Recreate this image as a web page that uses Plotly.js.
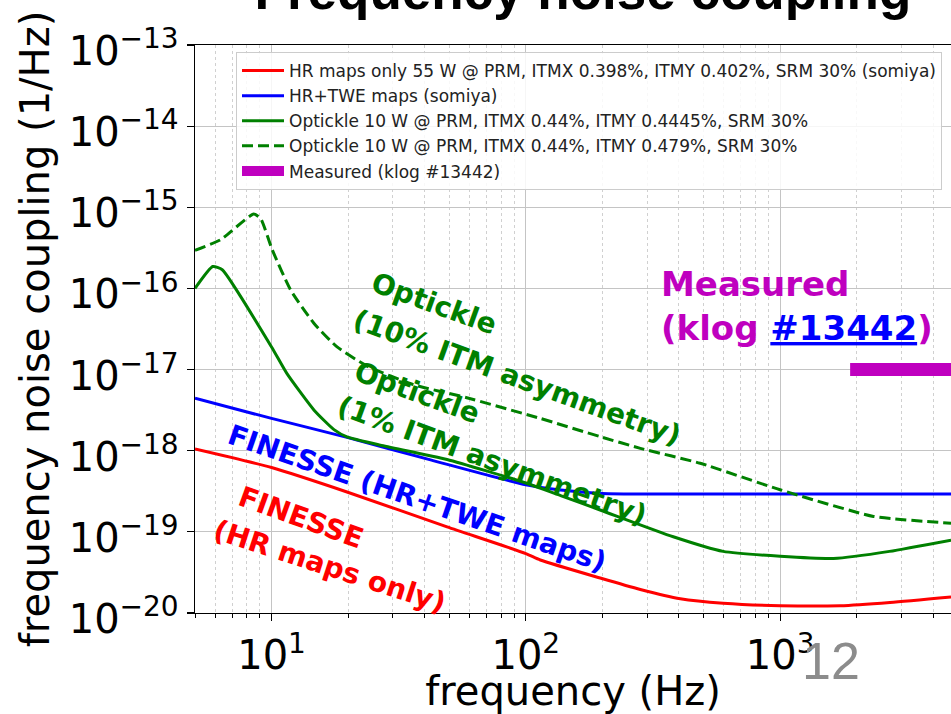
<!DOCTYPE html>
<html>
<head>
<meta charset="utf-8">
<script src="https://cdn.plot.ly/plotly-3.0.1.min.js"></script>
<style>html,body{margin:0;padding:0;overflow:hidden;background:#fff}</style>
</head>
<body>
<div id="chart" style="width:951px;height:714px"></div>
<script>
// ---- data ----
const hrFreq = [5, 10, 19.8, 49, 100, 114, 196, 282, 405, 597, 1000, 1722, 2704, 4700];
const hrVal  = [1.05e-18, 6.2e-19, 3.1e-19, 1.15e-19, 5.4e-20, 4.5e-20, 2.7e-20, 1.95e-20, 1.5e-20, 1.32e-20, 1.23e-20, 1.23e-20, 1.35e-20, 1.58e-20];

const tweFreq = [5, 10, 19.8, 42.2, 100, 137, 200, 316, 1000, 4700];
const tweVal  = [4.43e-18, 2.5e-18, 1.46e-18, 7.7e-19, 3.8e-19, 3.28e-19, 2.98e-19, 2.93e-19, 2.93e-19, 2.93e-19];

const opt1Freq = [5, 5.87, 6.4, 10, 11.5, 14.7, 17.6, 19.8, 26.8, 49, 100, 137, 196, 380, 597, 1000, 1622, 2692, 4700];
const opt1Val  = [1e-16, 1.86e-16, 1.7e-16, 1.9e-17, 8.9e-18, 3.16e-18, 1.82e-18, 1.48e-18, 1.17e-18, 7.8e-19, 4.0e-19, 2.8e-19, 1.86e-19, 8.7e-20, 5.75e-20, 5.0e-20, 4.7e-20, 5.75e-20, 7.9e-20];

const opt10Freq = [5, 6.3, 8.5, 9.06, 10.07, 11.9, 14.7, 18.1, 23.8, 36.2, 58.6, 114, 196, 282, 485, 1000, 2330, 4700];
const opt10Val  = [2.95e-16, 3.98e-16, 8.26e-16, 7.3e-16, 2.98e-16, 9.5e-17, 3.7e-17, 1.9e-17, 1.1e-17, 6.5e-18, 4.5e-18, 2.5e-18, 1.49e-18, 1.07e-18, 7.0e-19, 3.3e-19, 1.55e-19, 1.28e-19];

const measFreq = [1885, 5000];
const measVal  = [1e-17, 1e-17];

const seriesNames = [
  'HR maps only 55 W @ PRM, ITMX 0.398%, ITMY 0.402%, SRM 30% (somiya)',
  'HR+TWE maps (somiya)',
  'Optickle 10 W @ PRM, ITMX 0.44%, ITMY 0.4445%, SRM 30%',
  'Optickle 10 W @ PRM, ITMX 0.44%, ITMY 0.479%, SRM 30%',
  'Measured (klog #13442)'
];

const xTickVals = [10, 100, 1000];
const xTickText = ['10<sup>1</sup>', '10<sup>2</sup>', '10<sup>3</sup>'];
const yTickVals = [1e-20, 1e-19, 1e-18, 1e-17, 1e-16, 1e-15, 1e-14, 1e-13];
const yTickText = ['10<sup>\u221220</sup>', '10<sup>\u221219</sup>', '10<sup>\u221218</sup>', '10<sup>\u221217</sup>',
                   '10<sup>\u221216</sup>', '10<sup>\u221215</sup>', '10<sup>\u221214</sup>', '10<sup>\u221213</sup>'];

// minor tick positions 2..9 in each decade
const xMinor = [];
[1, 10, 100, 1000].forEach(d => { for (let k = 2; k <= 9; k++) xMinor.push(k * d); });

const RED = '#ff0000', BLUE = '#0000ff', GREEN = '#008000', MAG = '#bf00bf';

const traces = [
  {x: hrFreq, y: hrVal, name: seriesNames[0], mode: 'lines', line: {color: RED, width: 3, shape: 'spline', smoothing: 0.6}},
  {x: tweFreq, y: tweVal, name: seriesNames[1], mode: 'lines', line: {color: BLUE, width: 3, shape: 'spline', smoothing: 0.6}},
  {x: opt1Freq, y: opt1Val, name: seriesNames[2], mode: 'lines', line: {color: GREEN, width: 3, shape: 'spline', smoothing: 0.5}},
  {x: opt10Freq, y: opt10Val, name: seriesNames[3], mode: 'lines', line: {color: GREEN, width: 3, dash: '11px,5px', shape: 'spline', smoothing: 0.5}},
  {x: measFreq, y: measVal, name: seriesNames[4], mode: 'lines', line: {color: MAG, width: 13}}
];

const ANNF = 'DejaVu Sans';
function rot(text, px, py, ang, color, size) {
  return {text: text, xref: 'paper', yref: 'paper', x: (px - 195) / 756, y: (613 - py) / 568,
          xanchor: 'center', yanchor: 'middle', textangle: ang, showarrow: false,
          font: {family: ANNF, size: size || 28, color: color, weight: 'bold'}};
}

const annotations = [
  rot('Optickle', 434, 303, 20, GREEN),
  rot('(10% ITM asymmetry)', 517, 378, 20, GREEN),
  rot('Optickle', 417, 392, 20, GREEN),
  rot('(1% ITM asymmetry)', 492, 460, 20, GREEN),
  rot('FINESSE (HR+TWE maps)', 417, 499, 19, BLUE),
  rot('FINESSE', 301, 517, 20, RED),
  rot('(HR maps only)', 330, 566, 18, RED),
  {text: 'Measured', xref: 'paper', yref: 'paper', x: (659 - 195) / 756, y: (613 - 284) / 568,
   xanchor: 'left', yanchor: 'middle', showarrow: false,
   font: {family: ANNF, size: 34, color: MAG, weight: 'bold'}},
  {text: '(klog <span style="color:#0000ff;text-decoration:underline">#13442</span>)', xref: 'paper', yref: 'paper',
   x: (659 - 195) / 756, y: (613 - 328) / 568,
   xanchor: 'left', yanchor: 'middle', showarrow: false,
   font: {family: ANNF, size: 34, color: MAG, weight: 'bold'}},
  {text: '12', xref: 'paper', yref: 'paper', x: (831 - 195) / 756, y: (613 - 661) / 568,
   xanchor: 'center', yanchor: 'middle', showarrow: false,
   font: {family: 'Liberation Sans', size: 52, color: '#8c8c8c'}}
];

const layout = {
  width: 951, height: 714,
  margin: {l: 195, r: 0, t: 45, b: 101},
  paper_bgcolor: '#ffffff', plot_bgcolor: '#ffffff',
  title: {text: 'Frequency noise coupling', x: 0.613, xanchor: 'center', xref: 'container',
          y: 0.987, yanchor: 'bottom', yref: 'container',
          font: {family: 'Liberation Sans', size: 53, color: '#000', weight: 'bold'}},
  showlegend: true,
  legend: {x: (236 - 195) / 756, y: 1 - 7 / 568, xanchor: 'left', yanchor: 'top',
           itemwidth: 42,
           bgcolor: 'rgba(255,255,255,0.85)', bordercolor: '#cccccc', borderwidth: 1,
           font: {family: 'DejaVu Sans', size: 17, color: '#222'}},
  xaxis: {type: 'log', range: [Math.log10(5), 3.672],
          tickmode: 'array', tickvals: xTickVals, ticktext: xTickText,
          ticks: 'outside', ticklen: 7, tickwidth: 1.2, tickcolor: '#000',
          showline: true, linecolor: '#000', linewidth: 1.3, mirror: true,
          showgrid: true, gridcolor: '#c4c4c4', gridwidth: 1,
          minor: {tickmode: 'array', tickvals: xMinor, ticks: 'outside', ticklen: 4, tickcolor: '#000', tickwidth: 1,
                  showgrid: true, gridcolor: '#d0d0d0', griddash: 'dot', gridwidth: 1},
          zeroline: false, automargin: false,
          tickfont: {family: 'DejaVu Sans', size: 40, color: '#000'},
          title: {text: 'frequency (Hz)', standoff: 4, font: {family: 'DejaVu Sans', size: 40, color: '#000'}}},
  yaxis: {type: 'log', range: [-20, -13],
          tickmode: 'array', tickvals: yTickVals, ticktext: yTickText,
          ticks: 'outside', ticklen: 7, tickwidth: 1.2, tickcolor: '#000',
          ticklabelshift: 6,
          showline: true, linecolor: '#000', linewidth: 1.3,
          showgrid: true, gridcolor: '#c4c4c4', gridwidth: 1,
          zeroline: false, automargin: false,
          tickfont: {family: 'DejaVu Sans', size: 40, color: '#000'},
          title: {text: 'frequency noise coupling (1/Hz)', standoff: 6, font: {family: 'DejaVu Sans', size: 40, color: '#000'}}},
  annotations: annotations
};

Plotly.newPlot('chart', traces, layout, {displayModeBar: false, staticPlot: true});
</script>
</body>
</html>
